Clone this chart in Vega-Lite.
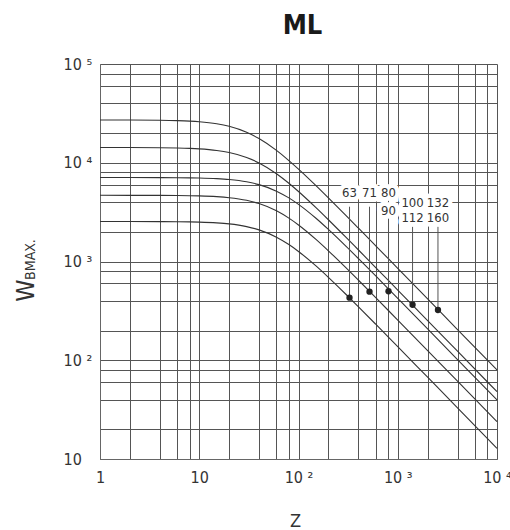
{
  "$schema": "https://vega.github.io/schema/vega-lite/v6.json",
  "width": 397,
  "height": 395,
  "autosize": {"type": "none"},
  "padding": {"left": 100, "top": 64, "right": 13, "bottom": 71},
  "title": {"text": "ML", "font": "DejaVu Sans Condensed, Liberation Sans, sans-serif", "fontWeight": "bold", "fontSize": 27, "color": "#1a1a1a", "anchor": "middle", "baseline": "top", "offset": 16, "dx": 4},
  "config": {
    "view": {"stroke": null},
    "font": "DejaVu Sans Condensed, Liberation Sans, sans-serif"
  },
  "datasets": {
    "curves": [
      {"c": "A", "Z": 1, "W": 2542}, {"c": "A", "Z": 2, "W": 2541}, {"c": "A", "Z": 4, "W": 2536}, {"c": "A", "Z": 6, "W": 2529}, {"c": "A", "Z": 8, "W": 2518}, {"c": "A", "Z": 10, "W": 2505}, {"c": "A", "Z": 15, "W": 2461}, {"c": "A", "Z": 20, "W": 2403}, {"c": "A", "Z": 30, "W": 2257}, {"c": "A", "Z": 40, "W": 2091}, {"c": "A", "Z": 60, "W": 1762}, {"c": "A", "Z": 80, "W": 1484}, {"c": "A", "Z": 100, "W": 1264}, {"c": "A", "Z": 150, "W": 901.3}, {"c": "A", "Z": 200, "W": 691.3}, {"c": "A", "Z": 300, "W": 466.0}, {"c": "A", "Z": 400, "W": 349.5}, {"c": "A", "Z": 600, "W": 231.6}, {"c": "A", "Z": 800, "W": 172.6}, {"c": "A", "Z": 1000, "W": 137.3}, {"c": "A", "Z": 2000, "W": 67.3}, {"c": "A", "Z": 4000, "W": 33.0}, {"c": "A", "Z": 10000, "W": 12.84},
      {"c": "B", "Z": 1, "W": 4680}, {"c": "B", "Z": 2, "W": 4678}, {"c": "B", "Z": 4, "W": 4670}, {"c": "B", "Z": 6, "W": 4656}, {"c": "B", "Z": 8, "W": 4638}, {"c": "B", "Z": 10, "W": 4614}, {"c": "B", "Z": 15, "W": 4534}, {"c": "B", "Z": 20, "W": 4429}, {"c": "B", "Z": 30, "W": 4166}, {"c": "B", "Z": 40, "W": 3863}, {"c": "B", "Z": 60, "W": 3261}, {"c": "B", "Z": 80, "W": 2749}, {"c": "B", "Z": 100, "W": 2345}, {"c": "B", "Z": 150, "W": 1674}, {"c": "B", "Z": 200, "W": 1284}, {"c": "B", "Z": 300, "W": 866.5}, {"c": "B", "Z": 400, "W": 649.8}, {"c": "B", "Z": 600, "W": 430.6}, {"c": "B", "Z": 800, "W": 320.9}, {"c": "B", "Z": 1000, "W": 255.3}, {"c": "B", "Z": 2000, "W": 125.2}, {"c": "B", "Z": 4000, "W": 61.3}, {"c": "B", "Z": 10000, "W": 23.9},
      {"c": "C", "Z": 1, "W": 7089}, {"c": "C", "Z": 2, "W": 7087}, {"c": "C", "Z": 4, "W": 7076}, {"c": "C", "Z": 6, "W": 7059}, {"c": "C", "Z": 8, "W": 7035}, {"c": "C", "Z": 10, "W": 7005}, {"c": "C", "Z": 15, "W": 6902}, {"c": "C", "Z": 20, "W": 6766}, {"c": "C", "Z": 30, "W": 6417}, {"c": "C", "Z": 40, "W": 6006}, {"c": "C", "Z": 60, "W": 5159}, {"c": "C", "Z": 80, "W": 4406}, {"c": "C", "Z": 100, "W": 3791}, {"c": "C", "Z": 150, "W": 2740}, {"c": "C", "Z": 200, "W": 2113}, {"c": "C", "Z": 300, "W": 1431}, {"c": "C", "Z": 400, "W": 1075}, {"c": "C", "Z": 600, "W": 713.7}, {"c": "C", "Z": 800, "W": 531.8}, {"c": "C", "Z": 1000, "W": 423.2}, {"c": "C", "Z": 2000, "W": 207.6}, {"c": "C", "Z": 4000, "W": 101.7}, {"c": "C", "Z": 10000, "W": 39.6},
      {"c": "D", "Z": 1, "W": 14265}, {"c": "D", "Z": 2, "W": 14251}, {"c": "D", "Z": 4, "W": 14196}, {"c": "D", "Z": 6, "W": 14105}, {"c": "D", "Z": 8, "W": 13981}, {"c": "D", "Z": 10, "W": 13825}, {"c": "D", "Z": 15, "W": 13321}, {"c": "D", "Z": 20, "W": 12700}, {"c": "D", "Z": 30, "W": 11310}, {"c": "D", "Z": 40, "W": 9950}, {"c": "D", "Z": 60, "W": 7740}, {"c": "D", "Z": 80, "W": 6194}, {"c": "D", "Z": 100, "W": 5113}, {"c": "D", "Z": 150, "W": 3507}, {"c": "D", "Z": 200, "W": 2648}, {"c": "D", "Z": 300, "W": 1763}, {"c": "D", "Z": 400, "W": 1315}, {"c": "D", "Z": 600, "W": 869}, {"c": "D", "Z": 800, "W": 646.9}, {"c": "D", "Z": 1000, "W": 514.1}, {"c": "D", "Z": 2000, "W": 252.0}, {"c": "D", "Z": 4000, "W": 123.4}, {"c": "D", "Z": 10000, "W": 48.0},
      {"c": "E", "Z": 1, "W": 27080}, {"c": "E", "Z": 2, "W": 27050}, {"c": "E", "Z": 4, "W": 26920}, {"c": "E", "Z": 6, "W": 26690}, {"c": "E", "Z": 8, "W": 26390}, {"c": "E", "Z": 10, "W": 26020}, {"c": "E", "Z": 15, "W": 24830}, {"c": "E", "Z": 20, "W": 23400}, {"c": "E", "Z": 30, "W": 20360}, {"c": "E", "Z": 40, "W": 17570}, {"c": "E", "Z": 60, "W": 13330}, {"c": "E", "Z": 80, "W": 10525}, {"c": "E", "Z": 100, "W": 8623}, {"c": "E", "Z": 150, "W": 5864}, {"c": "E", "Z": 200, "W": 4411}, {"c": "E", "Z": 300, "W": 2930}, {"c": "E", "Z": 400, "W": 2185}, {"c": "E", "Z": 600, "W": 1442}, {"c": "E", "Z": 800, "W": 1073}, {"c": "E", "Z": 1000, "W": 853.0}, {"c": "E", "Z": 2000, "W": 417.9}, {"c": "E", "Z": 4000, "W": 204.7}, {"c": "E", "Z": 10000, "W": 79.7}
    ],
    "dots": [
      {"size": "63", "Z": 326.6, "W": 430},
      {"size": "71", "Z": 519.4, "W": 495},
      {"size": "80/90", "Z": 807.4, "W": 500},
      {"size": "100/112", "Z": 1410, "W": 365},
      {"size": "132/160", "Z": 2542, "W": 323}
    ],
    "leaders": [
      {"Z": 326.6, "Wtop": 3588, "Wdot": 430},
      {"Z": 519.4, "Wtop": 3588, "Wdot": 495},
      {"Z": 807.4, "Wtop": 2822, "Wdot": 500},
      {"Z": 1410, "Wtop": 2251, "Wdot": 365},
      {"Z": 2542, "Wtop": 2251, "Wdot": 323}
    ],
    "labels": [
      {"t": "63", "Z": 326.6, "W": 4940},
      {"t": "71", "Z": 519.4, "W": 4940},
      {"t": "80", "Z": 807.4, "W": 4940},
      {"t": "90", "Z": 807.4, "W": 3246},
      {"t": "100", "Z": 1410, "W": 3939},
      {"t": "112", "Z": 1410, "W": 2757},
      {"t": "132", "Z": 2542, "W": 3939},
      {"t": "160", "Z": 2542, "W": 2757}
    ]
  },
  "resolve": {"axis": {"y": "independent"}},
  "layer": [
    {
      "data": {"name": "curves"},
      "mark": {"type": "line", "color": "#333", "strokeWidth": 1.1, "interpolate": "monotone"},
      "encoding": {
        "x": {"field": "Z", "type": "quantitative",
          "scale": {"type": "log", "domain": [1, 10000], "nice": false},
          "axis": {"values": [1,2,4,6,8,10,20,40,60,80,100,200,400,600,800,1000,2000,4000,6000,8000,10000],
            "grid": true, "gridColor": "#555", "gridOpacity": 1, "gridWidth": 1,
            "ticks": false, "tickSize": 0, "domain": true, "domainColor": "#666",
            "labelExpr": "datum.value == 1 ? '1' : datum.value == 10 ? '10' : datum.value == 100 ? '10 ²' : datum.value == 1000 ? '10 ³' : datum.value == 10000 ? '10 ⁴' : ''",
            "labelFontSize": 16, "labelColor": "#333", "labelPadding": 10,
            "labelFlush": false, "labelOverlap": false, "labelBound": false,
            "title": "Z", "titleFontSize": 18, "titleFontWeight": "normal", "titleColor": "#333",
            "titleX": 195, "titleY": 67, "titleBaseline": "alphabetic", "titleAlign": "center"}},
        "y": {"field": "W", "type": "quantitative",
          "scale": {"type": "log", "domain": [10, 100000], "nice": false},
          "axis": {"values": [10,20,40,60,80,100,200,400,600,800,1000,2000,4000,6000,8000,10000,20000,40000,60000,80000,100000],
            "grid": true, "gridColor": "#555", "gridOpacity": 1, "gridWidth": 1,
            "ticks": false, "tickSize": 0, "domain": true, "domainColor": "#666",
            "labelExpr": "datum.value == 10 ? '10' : datum.value == 100 ? '10 ²' : datum.value == 1000 ? '10 ³' : datum.value == 10000 ? '10 ⁴' : datum.value == 100000 ? '10 ⁵' : ''",
            "labelFontSize": 16, "labelColor": "#333", "labelPadding": 37, "labelAlign": "left",
            "labelFlush": false, "labelOverlap": false, "labelBound": false,
            "encode": {"labels": {"update": {"dy": {"signal": "datum.value == 10 ? 0 : 3"}}}},
            "title": "W", "titleFontSize": 25, "titleFontWeight": "normal", "titleColor": "#333",
            "titleX": -67, "titleY": 226, "titleBaseline": "alphabetic", "titleAlign": "center", "titleAngle": 270}},
        "detail": {"field": "c"}
      }
    },
    {
      "data": {"name": "leaders"},
      "mark": {"type": "rule", "color": "#555", "strokeWidth": 1},
      "encoding": {
        "x": {"field": "Z", "type": "quantitative"},
        "y": {"field": "Wtop", "type": "quantitative", "axis": null},
        "y2": {"field": "Wdot"}
      }
    },
    {
      "data": {"name": "labels"},
      "mark": {"type": "text", "fontSize": 13, "stroke": "white", "strokeWidth": 9, "strokeJoin": "round", "fill": "white", "baseline": "middle", "align": "center"},
      "encoding": {
        "x": {"field": "Z", "type": "quantitative"},
        "y": {"field": "W", "type": "quantitative", "axis": null},
        "text": {"field": "t"}
      }
    },
    {
      "data": {"name": "labels"},
      "mark": {"type": "text", "fontSize": 13, "color": "#333", "baseline": "middle", "align": "center"},
      "encoding": {
        "x": {"field": "Z", "type": "quantitative"},
        "y": {"field": "W", "type": "quantitative", "axis": null},
        "text": {"field": "t"}
      }
    },
    {
      "data": {"name": "dots"},
      "mark": {"type": "point", "filled": true, "color": "#222", "size": 40, "opacity": 1},
      "encoding": {
        "x": {"field": "Z", "type": "quantitative"},
        "y": {"field": "W", "type": "quantitative",
          "axis": {"orient": "left", "offset": 0, "grid": false, "labels": false, "ticks": false, "domain": false,
            "title": "BMAX.", "titleFontSize": 14, "titleFontWeight": "normal", "titleColor": "#333",
            "titleX": -66, "titleY": 195, "titleBaseline": "alphabetic", "titleAlign": "center", "titleAngle": 270}}
      }
    }
  ]
}
